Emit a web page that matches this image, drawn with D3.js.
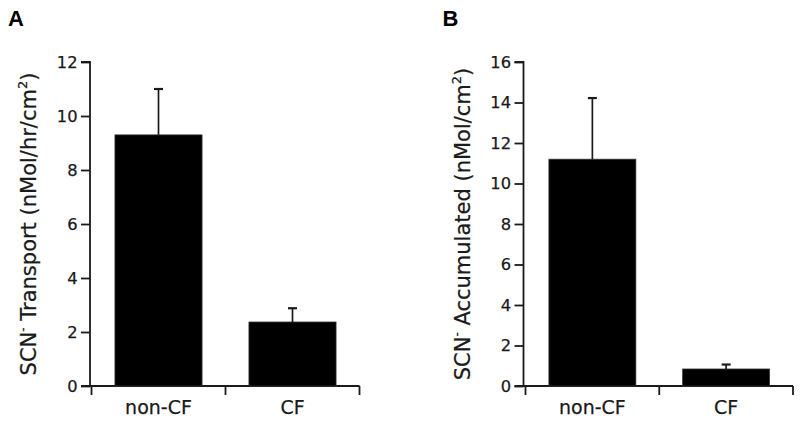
<!DOCTYPE html>
<html><head><meta charset="utf-8">
<script src="https://cdn.jsdelivr.net/npm/d3@7"></script>
<style>body{margin:0;background:#fff}svg{display:block}</style>
</head><body>
<script>
const categories = ["non-CF", "CF"];
const transportMeans = [9.3, 2.37];
const transportErrors = [1.7, 0.51];
const accumMeans = [11.2, 0.84];
const accumErrors = [3.02, 0.22];
const transportTicks = [0, 2, 4, 6, 8, 10, 12];
const accumTicks = [0, 2, 4, 6, 8, 10, 12, 14, 16];

const svg = d3.select("body").append("svg").attr("width", 800).attr("height", 424);
const FONT = "DejaVu Sans, Verdana, sans-serif";
const INK = "#1a1a1a";

function panel(opts) {
  const g = svg.append("g");
  const y = d3.scaleLinear().domain(opts.domain).range([386, 62]);
  const x = d3.scaleBand().domain(categories).range(opts.xr).paddingInner(0).paddingOuter(0);
  const bw = x.bandwidth() * 0.65;

  // y axis
  const ya = d3.axisLeft(y).tickValues(opts.ticks).tickSize(9).tickPadding(3.5).tickFormat(d3.format("d"));
  const yg = g.append("g").attr("transform", `translate(${opts.yx},0)`).call(ya);
  yg.select(".domain").attr("d", `M${-9},${y(opts.domain[1])}H0V${y(0)}H-9`).attr("stroke", INK).attr("stroke-width", 1.8).attr("fill", "none");
  yg.selectAll(".tick line").attr("stroke", INK).attr("stroke-width", 1.8);
  yg.selectAll(".tick text").attr("font-family", FONT).attr("font-size", 16.3).attr("fill", INK)
    .attr("stroke", INK).attr("stroke-width", 0.25);

  // x axis
  const xg = g.append("g");
  xg.append("line").attr("x1", opts.yx).attr("x2", opts.xr[1]).attr("y1", y(0)).attr("y2", y(0))
    .attr("stroke", INK).attr("stroke-width", 1.8);
  const edges = [opts.xr[0]].concat(categories.map(c => x(c) + x.bandwidth()));
  xg.selectAll("line.tk").data(edges).join("line").attr("class", "tk")
    .attr("x1", d => d).attr("x2", d => d).attr("y1", y(0)).attr("y2", y(0) + 9)
    .attr("stroke", INK).attr("stroke-width", 1.8);
  xg.selectAll("text").data(categories).join("text")
    .attr("x", d => x(d) + x.bandwidth() / 2).attr("y", 414)
    .attr("text-anchor", "middle").attr("font-family", FONT).attr("font-size", 19).attr("fill", INK)
    .attr("stroke", INK).attr("stroke-width", 0.25)
    .text(d => d);

  // bars
  g.selectAll("rect.bar").data(categories).join("rect").attr("class", "bar")
    .attr("x", d => x(d) + x.bandwidth() / 2 - bw / 2).attr("width", bw)
    .attr("y", (d, i) => y(opts.means[i])).attr("height", (d, i) => y(0) - y(opts.means[i]))
    .attr("fill", "#000").attr("stroke", "#333").attr("stroke-width", 0.8);

  // error bars
  const eb = g.selectAll("g.err").data(categories).join("g").attr("class", "err");
  eb.append("line")
    .attr("x1", d => x(d) + x.bandwidth() / 2).attr("x2", d => x(d) + x.bandwidth() / 2)
    .attr("y1", (d, i) => y(opts.means[i])).attr("y2", (d, i) => y(opts.means[i] + opts.errs[i]))
    .attr("stroke", INK).attr("stroke-width", 1.7);
  eb.append("line")
    .attr("x1", d => x(d) + x.bandwidth() / 2 - 4.5).attr("x2", d => x(d) + x.bandwidth() / 2 + 4.5)
    .attr("y1", (d, i) => y(opts.means[i] + opts.errs[i])).attr("y2", (d, i) => y(opts.means[i] + opts.errs[i]))
    .attr("stroke", INK).attr("stroke-width", 2.2);

  // y title
  const t = g.append("text")
    .attr("transform", `translate(${opts.titleX},${(y(0) + y(opts.domain[1])) / 2}) rotate(-90)`)
    .attr("text-anchor", "middle").attr("font-family", FONT).attr("font-size", 21).attr("fill", INK)
    .attr("stroke", INK).attr("stroke-width", 0.25);
  t.append("tspan").text("SCN");
  t.append("tspan").attr("font-size", 12).attr("dy", -9).text("-");
  t.append("tspan").attr("dy", 9).text(" " + opts.titleMid + " (nMol/" + opts.unit + "cm");
  t.append("tspan").attr("font-size", 13).attr("dy", -9).text("2");
  t.append("tspan").attr("dy", 9).text(")");

  // panel letter
  g.append("text").attr("x", opts.letterX).attr("y", 26)
    .attr("font-family", "Liberation Sans, Arial, sans-serif").attr("font-weight", "bold")
    .attr("font-size", 22).attr("fill", "#000").text(opts.letter);
}

panel({ domain: [0, 12], ticks: transportTicks, means: transportMeans, errs: transportErrors,
        xr: [91.5, 359.5], yx: 90, titleX: 36, titleMid: "Transport", unit: "hr/", letter: "A", letterX: 8 });
panel({ domain: [0, 16], ticks: accumTicks, means: accumMeans, errs: accumErrors,
        xr: [525.5, 793], yx: 523.5, titleX: 470, titleMid: "Accumulated", unit: "", letter: "B", letterX: 442.5 });
</script>
</body></html>
